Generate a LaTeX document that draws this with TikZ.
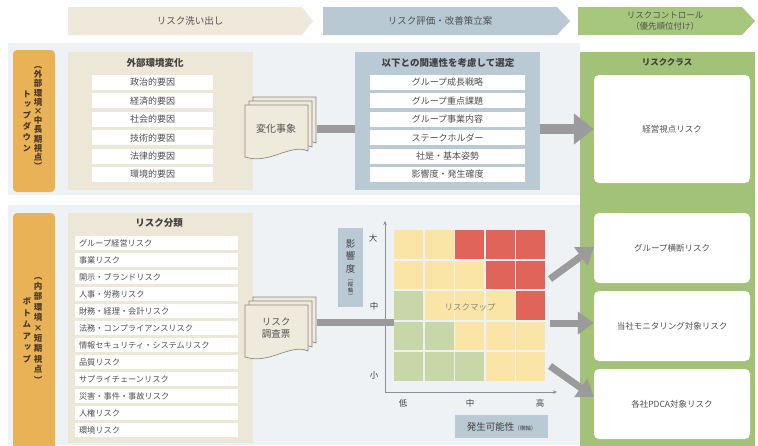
\documentclass[tikz,border=0pt]{standalone}
\usepackage{fontspec}
\setmainfont{Noto Sans CJK JP}
\newfontfamily\cjkv[RawFeature=+vert]{Noto Sans CJK JP}
\usetikzlibrary{arrows.meta}
\definecolor{bandbg}{HTML}{EFF2F5}
\definecolor{hdrA}{HTML}{EEE9DB}
\definecolor{hdrB}{HTML}{B9C9D3}
\definecolor{hdrC}{HTML}{A8C77E}
\definecolor{beige}{HTML}{EDE7D7}
\definecolor{bluep}{HTML}{BACAD4}
\definecolor{greenc}{HTML}{A2C277}
\definecolor{orangel}{HTML}{E9B257}
\definecolor{txt}{HTML}{505050}
\definecolor{txtd}{HTML}{404040}
\definecolor{arrowg}{HTML}{9B9B9B}
\definecolor{docfill}{HTML}{EEEADC}
\definecolor{docline}{HTML}{8E897C}
\definecolor{cellY}{HTML}{FAE4A6}
\definecolor{cellR}{HTML}{E0645A}
\definecolor{cellG}{HTML}{C7D7A7}
\definecolor{axisc}{HTML}{8A8F96}
\definecolor{lbltxt}{HTML}{4A3A22}
\definecolor{maptxt}{HTML}{8F8A70}
\tikzset{
  hdrtext/.style={text=txt, font=\fontsize{9.5}{10}\selectfont, inner sep=0},
  panelbox/.style={inner sep=0, draw=none},
  rowbox/.style={fill=white, inner sep=0, text=txt},
  ttl/.style={text=txtd, font=\bfseries\fontsize{9.5}{11}\selectfont, inner sep=0},
  vtxt/.style={align=center, inner sep=0, text=lbltxt},
  docpage/.style={fill=docfill, draw=docline, line width=0.7pt},
  barline/.style={draw=arrowg, line width=8pt},
  bigarrow/.style={draw=arrowg, line width=10pt, -{Triangle[length=20pt,width=30pt]}},
  midarrow/.style={draw=arrowg, line width=7pt, -{Triangle[length=16pt,width=22pt]}},
  axisline/.style={draw=axisc, line width=0.8pt, -{Stealth[length=4pt,width=3.5pt]}},
  wbox/.style={fill=white, rounded corners=5pt, inner sep=0, text=txt, font=\fontsize{8.5}{9}\selectfont},
  axlbl/.style={text=txtd, font=\fontsize{8.5}{9}\selectfont, inner sep=0},
}
\begin{document}
\begin{tikzpicture}[x=1pt,y=-1pt]
\useasboundingbox (0,0) rectangle (758,445);
\fill[white] (0,0) rectangle (758,445);
% bands
\fill[bandbg] (8,43) rectangle (580,195);
\fill[bandbg] (8,205) rectangle (580,445);
% headers
\fill[hdrA] (68,7) -- (302,7) -- (313,21) -- (302,35) -- (68,35) -- cycle;
\node[hdrtext] (h1) at (190,21) {リスク洗い出し};
\fill[hdrB] (323,7) -- (557,7) -- (570,21) -- (557,35) -- (323,35) -- cycle;
\node[hdrtext] (h2) at (440,21) {リスク評価・改善策立案};
\fill[hdrC] (578,7) -- (742,7) -- (755,21) -- (742,35) -- (578,35) -- cycle;
\node[hdrtext, align=center, font=\fontsize{8.5}{11}\selectfont] (h3) at (665,21) {リスクコントロール\\（優先順位付け）};
% orange labels
\fill[orangel, rounded corners=4pt] (13,50) rectangle (55,192);
\fill[orangel, rounded corners=4pt] (13,213) rectangle (55,455);
\node[vtxt, font=\cjkv\bfseries\fontsize{8.5}{9.2}\selectfont] (tdR) at (38,118) {（\\外\\部\\環\\境\\×\\中\\長\\期\\視\\点\\）};
\node[vtxt, font=\cjkv\bfseries\fontsize{8.5}{10.8}\selectfont] (tdL) at (27,121) {ト\\ッ\\プ\\ダ\\ウ\\ン};
\node[vtxt, font=\cjkv\bfseries\fontsize{8.5}{10.4}\selectfont] (buR) at (38,330) {（\\内\\部\\環\\境\\×\\短\\期\\視\\点\\）};
\node[vtxt, font=\cjkv\bfseries\fontsize{8.5}{11.5}\selectfont] (buL) at (27,330) {ボ\\ト\\ム\\ア\\ッ\\プ};
% top beige panel
\node[panelbox, fill=beige, minimum width=185pt, minimum height=138pt] (ext) at (160.5,121) {};
\node[ttl] (extT) at (155,63) {外部環境変化};
\foreach \t [count=\i from 0] in {政治的要因,経済的要因,社会的要因,技術的要因,法律的要因,環境的要因}
  \node[rowbox, minimum width=121pt, minimum height=15pt, font=\fontsize{9}{10}\selectfont] (ext\i) at (152.5,{82.5+18.4*\i}) {\t};
% top doc
\begin{scope}[shift={(245,105)}]
  \foreach \d in {8,4,0}
    \path[docpage] ({\d},{-\d}) -- ({\d+63},{-\d}) -- ({\d+63},{-\d+46}) .. controls ({\d+45},{-\d+38}) and ({\d+25},{-\d+60}) .. ({\d},{-\d+52}) -- cycle;
  \node[text=txt, font=\fontsize{10}{11}\selectfont, inner sep=0] (doc1) at (31,24) {変化事象};
\end{scope}
% blue panel
\node[panelbox, fill=bluep, minimum width=185pt, minimum height=138pt] (bpanel) at (447.5,121) {};
\node[ttl] (bpT) at (448,63) {以下との関連性を考慮して選定};
\foreach \t [count=\i from 0] in {グループ成長戦略,グループ重点課題,グループ事業内容,ステークホルダー,社是・基本姿勢,影響度・発生確度}
  \node[rowbox, minimum width=155pt, minimum height=15pt, font=\fontsize{9}{10}\selectfont] (sel\i) at (447.5,{82.5+18.4*\i}) {\t};
% bottom beige panel
\node[panelbox, fill=beige, minimum width=185pt, minimum height=230pt] (cls) at (160.5,328) {};
\node[ttl] (clsT) at (159,223) {リスク分類};
\foreach \t [count=\i from 0] in {グループ経営リスク,事業リスク,開示・ブランドリスク,人事・労務リスク,財務・経理・会計リスク,法務・コンプライアンスリスク,情報セキュリティ・システムリスク,品質リスク,サプライチェーンリスク,災害・事件・事故リスク,人権リスク,環境リスク}
  \node[rowbox, text width=155pt, align=left, inner xsep=4pt, minimum height=14pt, font=\fontsize{8.2}{9}\selectfont] (rc\i) at (156.5,{243+17*\i}) {\t};
% bottom doc
\begin{scope}[shift={(245,305)}]
  \foreach \d in {8,4,0}
    \path[docpage] ({\d},{-\d}) -- ({\d+63},{-\d}) -- ({\d+63},{-\d+46}) .. controls ({\d+45},{-\d+38}) and ({\d+25},{-\d+60}) .. ({\d},{-\d+52}) -- cycle;
  \node[text=txt, align=center, font=\fontsize{9.5}{11.5}\selectfont, inner sep=0] (doc2) at (31,23) {リスク\\調査票};
\end{scope}
% green column
\fill[greenc] (580,52) rectangle (755,450);
\node[ttl, font=\bfseries\fontsize{8.5}{10}\selectfont] (gT) at (667,62) {リスククラス};
\node[wbox, minimum width=156pt, minimum height=108pt] (box1) at (672,129) {経営視点リスク};
\node[wbox, minimum width=156pt, minimum height=70pt] (box2) at (672,248) {グループ横断リスク};
\node[wbox, minimum width=156pt, minimum height=70pt] (box3) at (672,326) {当社モニタリング対象リスク};
\node[wbox, minimum width=156pt, minimum height=70pt] (box4) at (672,404) {各社PDCA対象リスク};
% top connectors
\coordinate (d1out) at (317,129);
\draw[barline] (d1out) -- (bpanel.west |- d1out);
\draw[bigarrow] (bpanel.east |- d1out) -- (box1.west |- d1out);
% risk map grid
\node[inner sep=0, minimum width=151pt, minimum height=150pt] (grid) at (469.5,305.5) {};
\foreach \r/\cols in {0/{cellY,cellY,cellR,cellR,cellR},1/{cellY,cellY,cellY,cellR,cellR},2/{cellG,cellY,cellY,cellY,cellR},3/{cellG,cellG,cellY,cellY,cellY},4/{cellG,cellG,cellG,cellY,cellY}}{
  \foreach \c [count=\i from 0] in \cols
    \fill[\c] ({394+30.5*\i},{230+30.5*\r}) rectangle ++(29,28.5);
}
\node[text=maptxt, font=\fontsize{8.5}{10}\selectfont, inner sep=0] (mapT) at (470,307) {リスクマップ};
% axes
\coordinate (org) at (385,392);
\coordinate (ytop) at (385,221);
\coordinate (xend) at (557,392);
\draw[axisline] (org) -- (ytop);
\draw[axisline] (org) -- (xend);
\node[axlbl] (yH) at (373,238) {大};
\node[axlbl] (yM) at (374,306) {中};
\node[axlbl] (yL) at (374,375) {小};
\node[axlbl] (xL) at (403,403) {低};
\node[axlbl] (xM) at (470,403) {中};
\node[axlbl] (xH) at (540,403) {高};
\node[panelbox, fill=bluep, minimum width=25pt, minimum height=79pt] (ybox) at (350.5,267.5) {};
\node[vtxt, text=txtd, font=\cjkv\fontsize{9.5}{12.5}\selectfont] (ylab) at (350.5,256) {影\\響\\度};
\node[vtxt, text=txtd, font=\cjkv\fontsize{5.5}{5}\selectfont] (ylab2) at (350.5,289) {（\\縦\\軸\\）};
\node[panelbox, fill=bluep, minimum width=93pt, minimum height=23pt] (xbox) at (501.5,426.5) {};
\node[text=txtd, font=\fontsize{9.5}{11}\selectfont, inner sep=0] (xlab) at (501.5,426.5) {発生可能性{\fontsize{5.5}{6}\selectfont（横軸）}};
% bottom connectors
\coordinate (d2out) at (317,322);
\draw[barline, line width=7pt] (d2out) -- (grid.west |- d2out);
\coordinate (a1s) at (550,279);
\coordinate (a2s) at (550,323);
\coordinate (a3s) at (550,366);
\draw[midarrow] (a1s) -- ([yshift=1pt]box2.west);
\draw[midarrow] (a2s) -- (box3.west |- a2s);
\draw[midarrow] (a3s) -- ([yshift=7pt]box4.west);
\end{tikzpicture}
\end{document}
